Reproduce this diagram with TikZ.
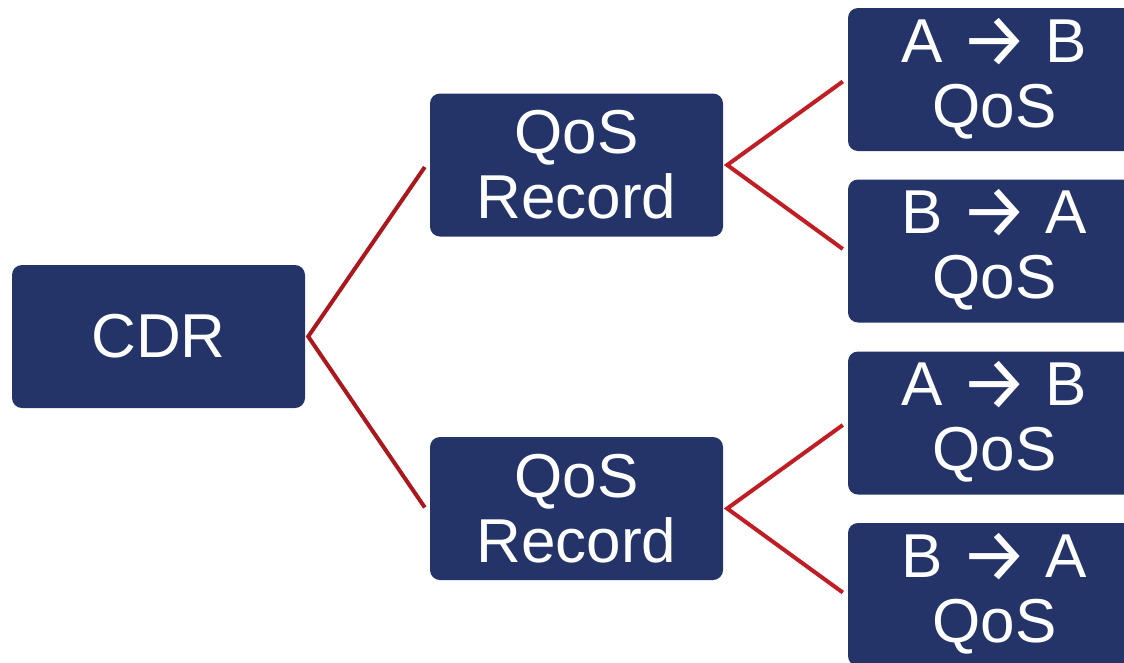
\documentclass[tikz,border=0pt]{standalone}
\usepackage{fontspec}
\usepackage{graphicx}
\setmainfont{Liberation Sans}
\newfontfamily\arrowfont{Fira Sans}
\usetikzlibrary{calc}
\definecolor{boxnavy}{RGB}{37,52,104}
\definecolor{linkdark}{RGB}{170,24,30}
\definecolor{linkred}{RGB}{192,30,36}
\newcommand{\flowto}{\raisebox{-4pt}[0pt][0pt]{\scalebox{1.22}{\arrowfont →}}}
\tikzset{
  card/.style={fill=boxnavy, draw=none, rounded corners=10pt, inner sep=0pt,
    minimum width=293pt, minimum height=143pt, text=white, align=center,
    font=\fontsize{62}{65}\selectfont},
  linkone/.style={draw=linkdark, line width=4pt},
  linktwo/.style={draw=linkred, line width=4pt}
}
\begin{document}
\begin{tikzpicture}[x=1pt, y=-1pt]
  \useasboundingbox (0,0) rectangle (1124,662);
  \clip (0,0) rectangle (1124,662);
  % tree of records
  \node[card] (cdr) at (158.5,336.5) {CDR};
  \node[card] (rec1) at (576.5,165) {QoS\\Record};
  \node[card] (rec2) at (576.5,508.5) {QoS\\Record};
  \node[card] (ab1) at (994.5,79.5) {A \flowto{} B\\QoS};
  \node[card] (ba1) at (994.5,251) {B \flowto{} A\\QoS};
  \node[card] (ab2) at (994.5,423) {A \flowto{} B\\QoS};
  \node[card] (ba2) at (994.5,594.5) {B \flowto{} A\\QoS};
  % connectors
  \draw[linkone] ($(rec1.west)+(-5,2)$) -- ($(cdr.east)+(3,0)$) -- ($(rec2.west)+(-5,-1)$);
  \draw[linktwo] ($(ab1.west)+(-5,2)$) -- ($(rec1.east)+(4,0)$) -- ($(ba1.west)+(-5,-2)$);
  \draw[linktwo] ($(ab2.west)+(-5,2)$) -- ($(rec2.east)+(4,0)$) -- ($(ba2.west)+(-5,-2)$);
\end{tikzpicture}
\end{document}
